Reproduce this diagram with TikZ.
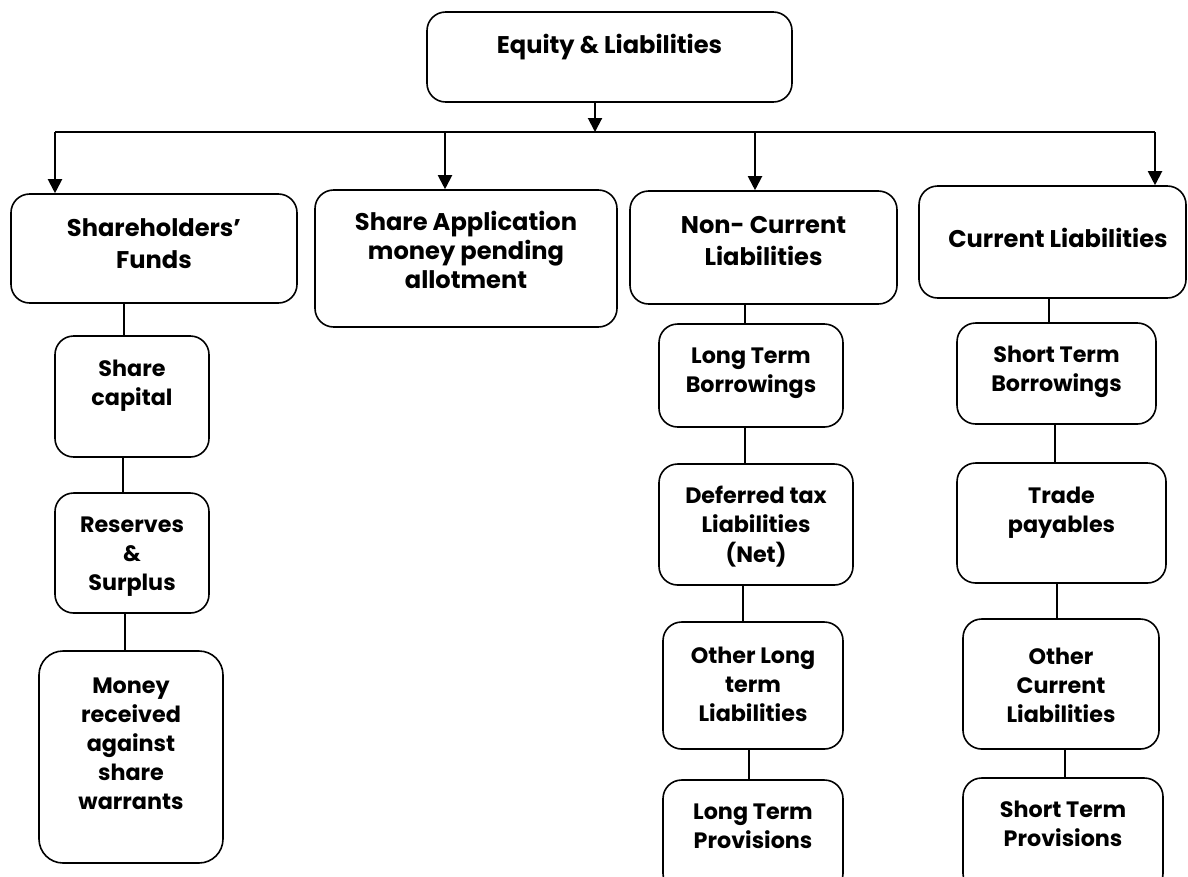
\documentclass[tikz,border=0pt]{standalone}
\usepackage{fontspec}
\setmainfont{Poppins}
\usetikzlibrary{arrows.meta}

% rounded box given by its corners (in px units of the picture)
\newcommand{\rbox}[6][]{%
  \node[box,#1,minimum width={(#4-#2)*0.75pt},minimum height={(#5-#3)*0.75pt}]
    (#6) at ({(#2+#4)/2},{(#3+#5)/2}) {};}

\tikzset{
  box/.style={draw, line width=1.2pt, rounded corners=14pt, inner sep=0pt, fill=white},
  head/.style={align=center, inner sep=0pt,
    font=\fontsize{18.1}{24}\selectfont\bfseries},
  item/.style={align=center, inner sep=0pt,
    font=\fontsize{16.7}{21.75}\selectfont\bfseries},
  arr/.style={line width=1.5pt, -{Triangle[width=10.5pt,length=10.5pt]}},
  bus/.style={line width=1.5pt},
  link/.style={line width=1.1pt},
}

\begin{document}
\begin{tikzpicture}[x=0.75pt,y=-0.75pt]
\useasboundingbox (0,0) rectangle (1188,876);
\begin{scope}
\clip (0,0) rectangle (1188,876);

% top level
\rbox{427}{12}{792}{102}{eq}
% second level
\rbox{11}{194}{297}{303}{sh}
\rbox{315}{190}{617}{327}{sa}
\rbox{630}{191}{897}{304}{ncl}
\rbox{919}{186}{1186}{298}{cl}
% shareholders' funds items
\rbox{55}{336}{209}{457}{sc}
\rbox{55}{493}{209}{613}{rs}
\rbox[rounded corners=18pt]{39}{651}{223}{863}{mn}
% non-current liabilities items
\rbox{659}{324}{843}{427}{ltb}
\rbox{659}{464}{853}{585}{dt}
\rbox{663}{622}{843}{749}{olt}
\rbox{663}{780}{843}{892}{ltp}
% current liabilities items
\rbox{957}{323}{1156}{424}{stb}
\rbox{957}{463}{1166}{583}{tp}
\rbox{963}{619}{1159}{749}{ocl}
\rbox{963}{778}{1163}{892}{stp}

% labels
\node[head] (eqt) at (eq.center |- 0,46.6) {\strut Equity \& Liabilities\strut};
\node[head] (sht) at (sh.center |- 0,245.6) {\strut Shareholders’\\\strut Funds};
\node[head, font=\fontsize{18.1}{21.4}\selectfont\bfseries] (sat) at (sa.center |- 0,253.8)
  {\strut Share Application\\\strut money pending\\\strut allotment};
\node[head] (nclt) at (ncl.center |- 0,242.6) {\strut Non- Current\\\strut Liabilities};
\node[head] (clt) at (1058,240.6) {\strut Current Liabilities\strut};

\node[item] (sct) at (sc.center |- 0,384.7) {\strut Share\\\strut capital};
\node[item] (rst) at (rs.center |- 0,555.2) {\strut Reserves\\\strut \&\\\strut Surplus};
\node[item] (mnt) at (mn.center |- 0,745.2)
  {\strut Money\\\strut received\\\strut against\\\strut share\\\strut warrants};

\node[item] (ltbt) at (ltb.center |- 0,371.7) {\strut Long Term\\\strut Borrowings};
\node[item] (dtt) at (dt.center |- 0,527.2) {\strut Deferred tax\\\strut Liabilities\\\strut (Net)};
\node[item] (oltt) at (olt.center |- 0,686.2) {\strut Other Long\\\strut term\\\strut Liabilities};
\node[item] (ltpt) at (ltp.center |- 0,827.7) {\strut Long Term\\\strut Provisions};

\node[item] (stbt) at (stb.center |- 0,370.7) {\strut Short Term\\\strut Borrowings};
\node[item] (tpt) at (tp.center |- 0,511.7) {\strut Trade\\\strut payables};
\node[item] (oclt) at (ocl.center |- 0,687.2) {\strut Other\\\strut Current\\\strut Liabilities};
\node[item] (stpt) at (stp.center |- 0,825.7) {\strut Short Term\\\strut Provisions};

% distribution bus
\coordinate (b0) at (595,132);
\coordinate (b1) at (55,132);
\coordinate (b2) at (445,132);
\coordinate (b3) at (755,132);
\coordinate (b4) at (1155,132);
\draw[bus] (b1) -- (b4);
\draw[arr] (b0 |- eq.south) -- (b0);
\draw[arr] (b1) -- (b1 |- sh.north);
\draw[arr] (b2) -- (b2 |- sa.north);
\draw[arr] (b3) -- (b3 |- ncl.north);
\draw[arr] (b4) -- (b4 |- cl.north);

% vertical links
\draw[link] ([xshift=-6pt]sc.north) -- ([xshift=-6pt]sc.north |- sh.south);
\draw[link] ([xshift=-6.75pt]sc.south) -- ([xshift=-6.75pt]sc.south |- rs.north);
\draw[link] ([xshift=-4.5pt]mn.north) -- ([xshift=-4.5pt]mn.north |- rs.south);

\draw[link] ([xshift=-4.5pt]ltb.north) -- ([xshift=-4.5pt]ltb.north |- ncl.south);
\draw[link] ([xshift=-4.5pt]ltb.south) -- ([xshift=-4.5pt]ltb.south |- dt.north);
\draw[link] ([xshift=-7.5pt]olt.north) -- ([xshift=-7.5pt]olt.north |- dt.south);
\draw[link] ([xshift=-3pt]ltp.north) -- ([xshift=-3pt]ltp.north |- olt.south);

\draw[link] ([xshift=-5.6pt]stb.north) -- ([xshift=-5.6pt]stb.north |- cl.south);
\draw[link] ([xshift=-1pt]stb.south) -- ([xshift=-1pt]stb.south |- tp.north);
\draw[link] ([xshift=-3pt]ocl.north) -- ([xshift=-3pt]ocl.north |- tp.south);
\draw[link] ([xshift=1.5pt]stp.north) -- ([xshift=1.5pt]stp.north |- ocl.south);
\end{scope}
\end{tikzpicture}
\end{document}
